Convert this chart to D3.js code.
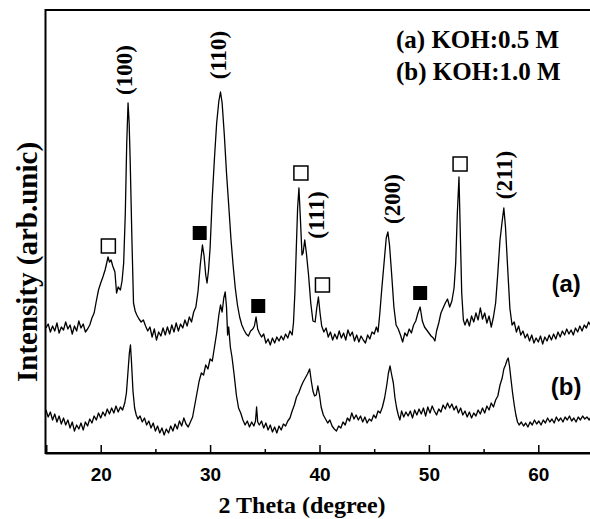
<!DOCTYPE html>
<html>
<head>
<meta charset="utf-8">
<script src="https://cdn.jsdelivr.net/npm/d3@7"></script>
<style>
  html, body { margin: 0; padding: 0; background: #fff; }
  svg { display: block; }
  .serif { font-family: "Liberation Serif", "Times New Roman", serif; font-weight: bold; }
  .sans { font-family: "Liberation Sans", Arial, sans-serif; font-weight: bold; }
</style>
</head>
<body>
<svg id="chart" width="590" height="519"></svg>
<script>

  /** XRD pattern (a), KOH 0.5 M: [2 theta, intensity] **/
  var traceA = [
    [15.0,125],[15.2,129],[15.4,121],[15.6,127],[15.8,122],[16.0,130],[16.2,120],[16.4,126],[16.6,123],[16.8,131],
    [17.0,124],[17.2,128],[17.4,119],[17.6,127],[17.8,122],[18.0,132],[18.2,125],[18.4,129],[18.6,121],[18.8,124],
    [19.0,128],[19.2,135],[19.4,140],[19.6,152],[19.8,163],[20.0,170],[20.2,176],[20.4,183],[20.55,190],[20.67,196],
    [20.8,191],[20.95,193],[21.1,187],[21.3,181],[21.45,160],[21.6,166],[21.8,163],[21.95,172],[22.1,190],[22.25,240],
    [22.38,310],[22.5,350],[22.6,330],[22.7,290],[22.85,215],[23.0,150],[23.15,142],[23.3,138],[23.5,134],[23.7,131],
    [23.9,133],[24.1,127],[24.3,122],[24.5,126],[24.7,116],[24.9,124],[25.1,113],[25.3,121],[25.5,117],[25.7,125],
    [25.9,118],[26.1,126],[26.3,119],[26.5,128],[26.7,121],[26.9,130],[27.1,122],[27.3,129],[27.5,125],[27.7,133],
    [27.9,127],[28.1,136],[28.3,131],[28.5,141],[28.7,146],[28.9,162],[29.1,188],[29.3,208],[29.45,197],[29.6,178],
    [29.72,170],[29.85,182],[30.0,205],[30.2,256],[30.4,295],[30.6,330],[30.8,352],[30.95,361],[31.1,350],[31.3,318],
    [31.5,280],[31.7,248],[31.9,215],[32.1,188],[32.3,165],[32.5,148],[32.7,136],[32.9,128],[33.1,123],[33.3,119],
    [33.5,117],[33.7,122],[33.9,124],[34.05,127],[34.2,136],[34.35,124],[34.5,120],[34.7,116],[34.9,119],[35.1,110],
    [35.3,114],[35.5,108],[35.7,115],[35.9,110],[36.1,116],[36.3,112],[36.5,117],[36.7,113],[36.9,119],[37.1,115],
    [37.3,122],[37.5,118],[37.62,130],[37.75,160],[37.88,205],[38.0,245],[38.12,265],[38.25,235],[38.4,198],[38.5,200],
    [38.65,213],[38.8,200],[39.0,178],[39.2,150],[39.4,132],[39.6,131],[39.75,145],[39.9,156],[40.05,140],[40.2,127],
    [40.4,121],[40.6,125],[40.8,116],[41.0,121],[41.2,113],[41.4,119],[41.6,114],[41.8,122],[42.0,115],[42.2,120],
    [42.4,113],[42.6,123],[42.8,117],[43.0,121],[43.2,112],[43.4,118],[43.6,111],[43.8,117],[44.0,113],[44.2,110],
    [44.4,118],[44.6,114],[44.8,121],[45.0,119],[45.2,126],[45.35,121],[45.5,138],[45.7,165],[45.9,190],[46.1,215],
    [46.25,221],[46.4,208],[46.6,178],[46.8,146],[47.0,128],[47.2,124],[47.4,118],[47.6,111],[47.8,120],[48.0,117],
    [48.2,124],[48.4,120],[48.6,128],[48.8,132],[49.0,140],[49.2,146],[49.4,132],[49.6,126],[49.8,123],[50.0,120],
    [50.2,117],[50.4,115],[50.55,112],[50.7,122],[50.9,130],[51.1,140],[51.3,145],[51.5,150],[51.7,154],[51.9,146],
    [52.1,152],[52.3,165],[52.45,190],[52.6,240],[52.75,276],[52.88,215],[53.0,160],[53.15,133],[53.3,128],[53.5,134],
    [53.7,127],[53.9,137],[54.1,131],[54.3,140],[54.5,133],[54.7,145],[54.9,134],[55.1,140],[55.3,130],[55.5,137],
    [55.7,126],[55.9,136],[56.1,150],[56.3,180],[56.5,213],[56.7,232],[56.85,245],[57.0,226],[57.2,185],[57.4,145],
    [57.6,128],[57.8,131],[58.0,121],[58.2,127],[58.4,118],[58.6,122],[58.8,115],[59.0,119],[59.2,112],[59.4,118],
    [59.6,110],[59.8,115],[60.0,111],[60.2,117],[60.4,109],[60.6,116],[60.8,112],[61.0,118],[61.2,113],[61.4,119],
    [61.6,114],[61.8,121],[62.0,116],[62.2,122],[62.4,118],[62.6,124],[62.8,119],[63.0,123],[63.2,118],[63.4,125],
    [63.6,121],[63.8,127],[64.0,122],[64.2,128],[64.4,125],[64.6,131],[64.8,127],[65.0,130]
  ];

  /** XRD pattern (b), KOH 1.0 M **/
  var traceB = [
    [15.0,43],[15.2,36],[15.4,41],[15.6,33],[15.8,39],[16.0,31],[16.2,37],[16.4,29],[16.6,35],[16.8,28],
    [17.0,33],[17.2,25],[17.4,31],[17.6,22],[17.8,28],[18.0,24],[18.2,30],[18.4,23],[18.6,31],[18.8,27],
    [19.0,34],[19.2,30],[19.4,37],[19.6,33],[19.8,40],[20.0,35],[20.2,41],[20.4,37],[20.6,44],[20.8,39],
    [21.0,45],[21.2,40],[21.4,47],[21.6,41],[21.8,46],[22.0,43],[22.2,50],[22.35,60],[22.5,82],[22.62,100],
    [22.72,108],[22.82,90],[22.95,62],[23.1,45],[23.25,38],[23.4,34],[23.6,37],[23.8,31],[24.0,35],[24.2,28],
    [24.4,32],[24.6,25],[24.8,30],[25.0,22],[25.2,27],[25.4,20],[25.6,25],[25.8,18],[26.0,24],[26.2,20],
    [26.4,27],[26.6,22],[26.8,29],[27.0,24],[27.2,32],[27.4,27],[27.6,35],[27.8,29],[28.0,26],[28.2,31],
    [28.4,36],[28.6,48],[28.8,60],[29.0,72],[29.2,80],[29.4,78],[29.6,88],[29.8,84],[30.0,94],[30.2,92],
    [30.4,106],[30.6,120],[30.8,138],[30.95,148],[31.1,141],[31.25,155],[31.38,161],[31.5,146],[31.6,118],[31.7,126],
    [31.85,106],[32.0,96],[32.2,78],[32.4,58],[32.6,45],[32.8,40],[33.0,33],[33.2,28],[33.4,32],[33.6,26],
    [33.8,31],[34.0,27],[34.15,32],[34.25,46],[34.35,31],[34.5,28],[34.7,32],[34.9,25],[35.1,30],[35.3,23],
    [35.5,28],[35.7,21],[35.9,26],[36.1,20],[36.3,27],[36.5,23],[36.7,29],[36.9,27],[37.1,32],[37.3,35],
    [37.5,42],[37.7,48],[37.9,56],[38.1,60],[38.3,66],[38.5,71],[38.7,75],[38.9,79],[39.1,84],[39.25,72],
    [39.4,62],[39.55,57],[39.7,58],[39.85,67],[40.0,58],[40.15,46],[40.35,38],[40.55,34],[40.75,30],[40.95,33],
    [41.15,27],[41.35,24],[41.55,22],[41.75,27],[41.95,25],[42.15,31],[42.35,28],[42.55,35],[42.75,32],[42.95,40],
    [43.15,34],[43.35,38],[43.55,33],[43.75,37],[43.95,31],[44.15,36],[44.35,30],[44.55,34],[44.75,32],[44.95,38],
    [45.15,35],[45.35,42],[45.55,40],[45.75,46],[45.95,55],[46.15,68],[46.3,80],[46.45,87],[46.6,78],[46.75,70],
    [46.9,55],[47.05,45],[47.2,38],[47.35,33],[47.5,42],[47.7,36],[47.9,41],[48.1,37],[48.3,42],[48.5,35],
    [48.7,43],[48.9,38],[49.1,44],[49.3,39],[49.5,45],[49.7,37],[49.9,46],[50.1,40],[50.3,47],[50.5,42],
    [50.7,38],[50.9,44],[51.1,41],[51.3,48],[51.5,44],[51.7,50],[51.9,45],[52.1,49],[52.3,43],[52.5,47],
    [52.7,40],[52.9,45],[53.1,38],[53.3,42],[53.5,36],[53.7,41],[53.9,35],[54.1,40],[54.3,37],[54.5,43],
    [54.7,39],[54.9,45],[55.1,40],[55.3,47],[55.5,43],[55.7,50],[55.9,46],[56.1,53],[56.3,57],[56.5,68],
    [56.7,75],[56.85,84],[57.0,88],[57.15,93],[57.25,95],[57.38,86],[57.5,74],[57.65,60],[57.8,48],[57.95,38],
    [58.1,31],[58.25,28],[58.45,31],[58.65,27],[58.85,30],[59.05,26],[59.25,31],[59.45,28],[59.65,33],[59.85,29],
    [60.05,32],[60.25,28],[60.45,33],[60.65,30],[60.85,35],[61.05,31],[61.25,34],[61.45,30],[61.65,36],[61.85,32],
    [62.05,35],[62.25,31],[62.45,36],[62.65,33],[62.85,37],[63.05,32],[63.25,35],[63.45,31],[63.65,36],[63.85,33],
    [64.05,37],[64.25,34],[64.45,36],[64.65,33],[64.85,37],[65.0,35]
  ];

  // phase markers: open = impurity, filled = other phase
  var openSquares = [[20.7,207],[38.3,280],[40.27,168],[52.85,289]];
  var filledSquares = [[29.05,220],[34.4,147],[49.2,160]];

  var peakLabels = [
    { hkl: '(100)', theta: 22.22, y: 383 },
    { hkl: '(110)', theta: 30.77, y: 398 },
    { hkl: '(111)', theta: 39.75, y: 238 },
    { hkl: '(200)', theta: 46.72, y: 254 },
    { hkl: '(211)', theta: 56.96, y: 278 }
  ];

  var curveTags = [
    { text: '(a)', theta: 62.55, y: 169 },
    { text: '(b)', theta: 62.55, y: 66 }
  ];

  var legendLines = ['(a) KOH:0.5 M', '(b) KOH:1.0 M'];
  var majorTicks = [20, 30, 40, 50, 60];
  var minorTicks = [25, 35, 45, 55, 65];

  var svg = d3.select('#chart'),

      x = d3.scaleLinear().domain([15, 65]).range([46, 593]),
      y = d3.scaleLinear().domain([0, 443]).range([453, 10]),

      line = d3.line()
        .x(function(d) { return x(d[0]); })
        .y(function(d) { return y(d[1]); });

  // frame (right edge falls just outside the picture)
  svg.append('rect')
    .attr('x', x(15) - 0.5)
    .attr('y', y(443))
    .attr('width', x(65) - x(15))
    .attr('height', y(0) - y(443))
    .attr('fill', 'none')
    .attr('stroke', '#000')
    .attr('stroke-width', 2);

  var axis = svg.append('g')
    .attr('transform', 'translate(0,' + y(0) + ')')
    .call(d3.axisBottom(x).tickValues(majorTicks).tickSize(-8).tickPadding(15).tickFormat(d3.format('d')));

  svg.append('g')
    .attr('transform', 'translate(0,' + y(0) + ')')
    .call(d3.axisBottom(x).tickValues(minorTicks).tickSize(-4).tickFormat(''))
    .call(function(g) { g.select('.domain').remove(); });

  svg.selectAll('.tick line').attr('stroke', '#000').attr('stroke-width', 1.5);
  axis.select('.domain').attr('stroke', '#000').attr('stroke-width', 2);
  axis.selectAll('text')
    .attr('class', 'sans')
    .style('font-size', '19px')
    .attr('fill', '#000');

  // the two traces
  svg.selectAll('.trace')
    .data([traceA, traceB])
    .enter()
      .append('path')
      .attr('class', 'trace')
      .attr('d', line)
      .attr('fill', 'none')
      .attr('stroke', '#000')
      .attr('stroke-width', 1.3)
      .attr('stroke-linejoin', 'round');

  var side = 14;

  svg.selectAll('.open-sq')
    .data(openSquares)
    .enter()
      .append('rect')
      .attr('x', function(d) { return x(d[0]) - side / 2; })
      .attr('y', function(d) { return y(d[1]) - side / 2; })
      .attr('width', side)
      .attr('height', side)
      .attr('fill', '#fff')
      .attr('stroke', '#000')
      .attr('stroke-width', 1.5);

  svg.selectAll('.filled-sq')
    .data(filledSquares)
    .enter()
      .append('rect')
      .attr('x', function(d) { return x(d[0]) - side / 2; })
      .attr('y', function(d) { return y(d[1]) - side / 2; })
      .attr('width', side)
      .attr('height', side)
      .attr('fill', '#000');

  svg.selectAll('.hkl')
    .data(peakLabels)
    .enter()
      .append('text')
      .attr('class', 'serif')
      .attr('text-anchor', 'middle')
      .attr('dy', '0.32em')
      .style('font-size', '23px')
      .attr('transform', function(d) { return 'translate(' + x(d.theta) + ',' + y(d.y) + ') rotate(-90)'; })
      .text(function(d) { return d.hkl; });

  svg.selectAll('.tag')
    .data(curveTags)
    .enter()
      .append('text')
      .attr('class', 'sans')
      .attr('text-anchor', 'middle')
      .attr('dy', '0.35em')
      .style('font-size', '24px')
      .attr('x', function(d) { return x(d.theta); })
      .attr('y', function(d) { return y(d.y); })
      .text(function(d) { return d.text; });

  svg.selectAll('.legend')
    .data(legendLines)
    .enter()
      .append('text')
      .attr('class', 'serif')
      .style('font-size', '25px')
      .attr('x', 396)
      .attr('y', function(d, i) { return 48 + i * 32; })
      .text(function(d) { return d; });

  // axis titles
  svg.append('text')
    .attr('class', 'serif')
    .attr('text-anchor', 'middle')
    .style('font-size', '24px')
    .attr('x', 302)
    .attr('y', 513)
    .text('2 Theta (degree)');

  svg.append('text')
    .attr('class', 'serif')
    .attr('text-anchor', 'middle')
    .style('font-size', '29px')
    .attr('transform', 'translate(37,262) rotate(-90)')
    .text('Intensity (arb.unic)');

</script>
</body>
</html>
